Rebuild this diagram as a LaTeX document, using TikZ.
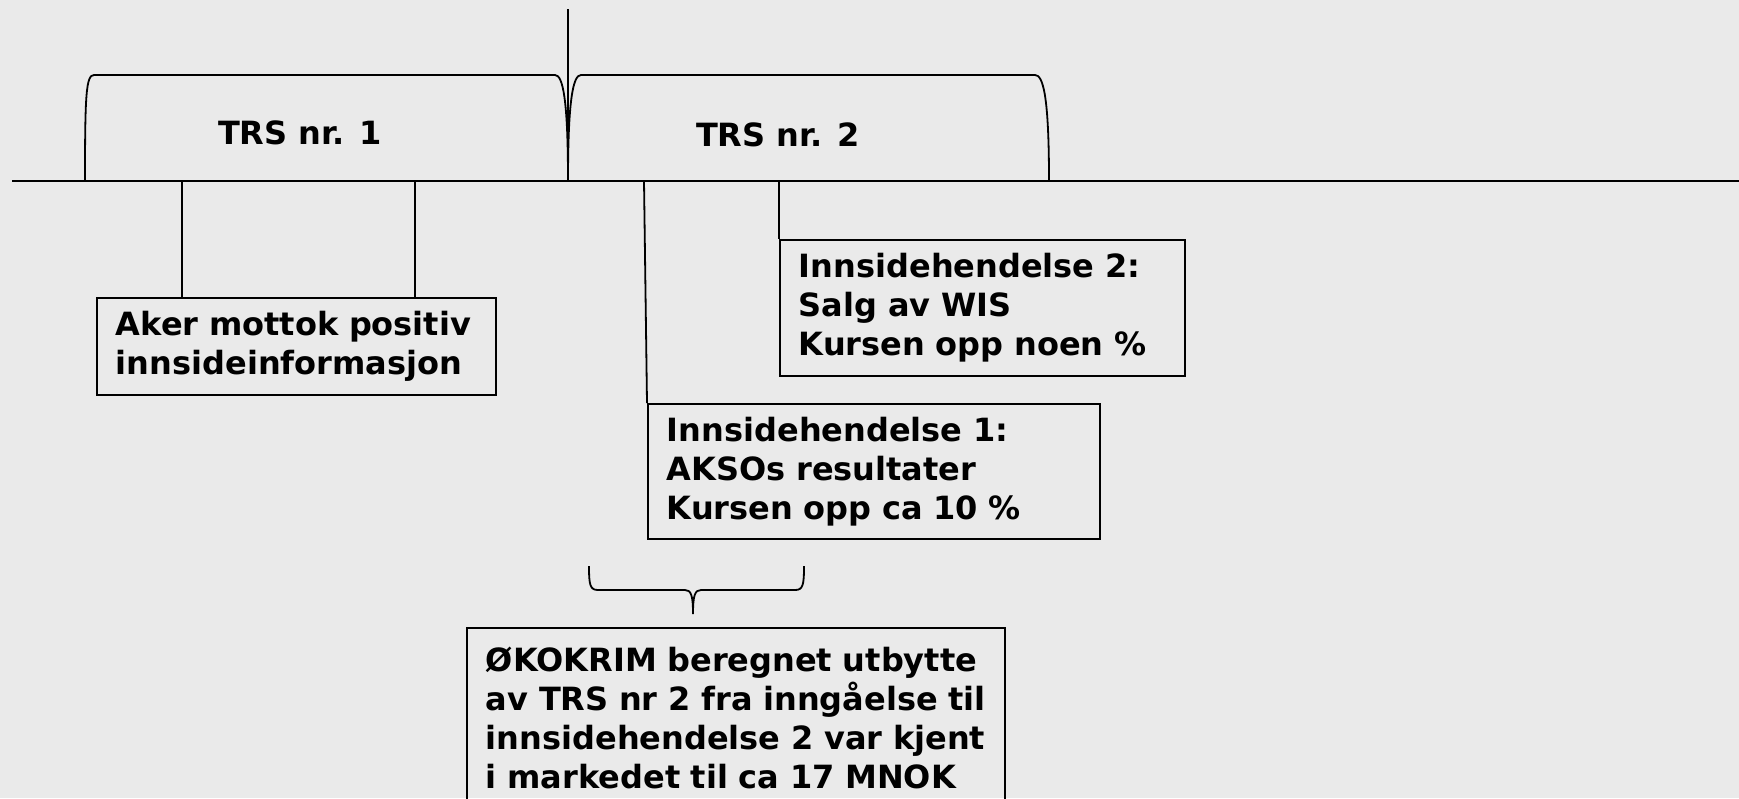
\documentclass[tikz,border=0pt]{standalone}
\usepackage{fontspec}
\setmainfont{DejaVu Sans}
\definecolor{bgcolor}{RGB}{234,234,234}

\begin{document}
\begin{tikzpicture}[x=1pt, y=-1pt, line width=1.8pt,
		txt/.style={font=\bfseries\fontsize{32}{38.8}\selectfont},
		infobox/.style={txt, draw, anchor=north west, align=left, inner xsep=19pt, inner ysep=0pt}]
		\clip (0,0) rectangle (1739,798);
		\fill [bgcolor](0,0) rectangle (1739,798);

		\coordinate (tl) at (12,181);
		\coordinate (tr) at (1739,181);
		\coordinate (split) at (568,181);
		\coordinate (splittop) at (568,9);
		\draw (tl) -- (tr);
		\draw (splittop) -- (split);

		\draw (85,181) .. controls (85,95) and (86,75) .. (94,75) -- (555,75) .. controls (563,75) and (568,100) .. (split);
		\draw (split) .. controls (568,100) and (573,75) .. (581,75) -- (1035,75) .. controls (1043,75) and (1049,95) .. (1049,181);
		\node (trsA)[txt] at (300,133) {TRS nr. 1};
		\node (trsB)[txt] at (778,135) {TRS nr. 2};

		\node (aker)[infobox, text width=361pt, minimum height=97pt] at (96,297) {Aker mottok positiv\\innsideinformasjon};
		\node (hend1)[infobox, text width=414pt, minimum height=135pt] at (647,403) {Innsidehendelse 1:\\AKSOs resultater\\Kursen opp ca 10 \%};
		\node (hend2)[infobox, text width=367pt, minimum height=136pt] at (779,239) {Innsidehendelse 2:\\Salg av WIS\\Kursen opp noen \%};
		\node (okokrim)[infobox, text width=500pt, minimum height=180pt] at (466,627) {ØKOKRIM beregnet utbytte\\av TRS nr 2 fra inngåelse til\\innsidehendelse 2 var kjent\\i markedet til ca 17 MNOK};

		\coordinate (t1) at (182,181);
		\coordinate (t2) at (415,181);
		\coordinate (t3) at (644,181);
		\coordinate (t4) at (779,181);
		\draw (t1) -- (t1 |- aker.north);
		\draw (t2) -- (t2 |- aker.north);
		\draw (t3) -- (hend1.north west);
		\draw (t4) -- (hend2.north west);

		\coordinate (tip) at (693,614);
		\draw (589,566) .. controls (589,585) and (590,590) .. (598,590) -- (685,590) .. controls (691,590) and (693,595) .. (tip) .. controls (693,595) and (695,590) .. (701,590) -- (795,590) .. controls (803,590) and (804,585) .. (804,566);
	\end{tikzpicture}
\end{document}
